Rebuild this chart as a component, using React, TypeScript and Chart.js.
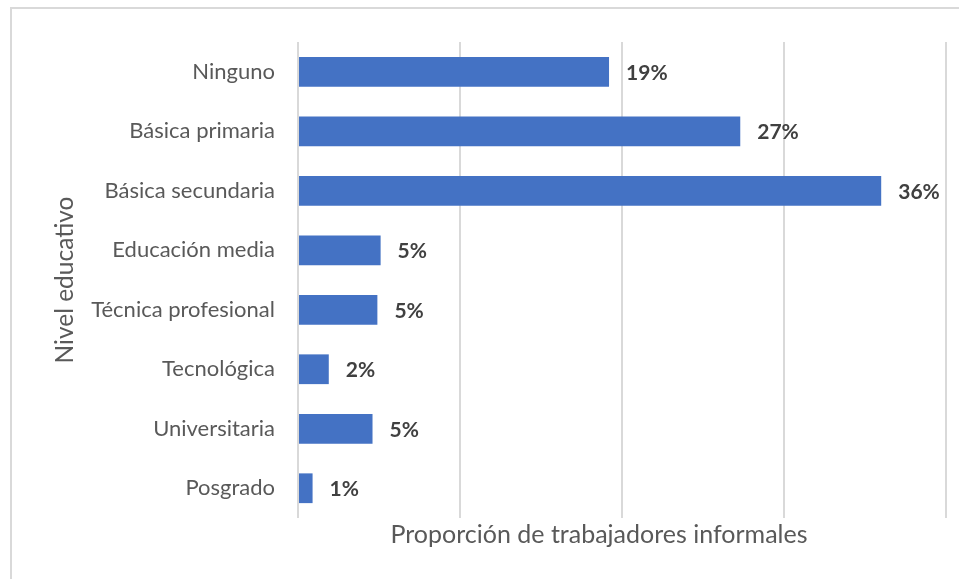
import React, { useEffect, useRef } from "react";
import { Chart, registerables } from "chart.js";

Chart.register(...registerables);

const categories = [
  "Ninguno",
  "Básica primaria",
  "Básica secundaria",
  "Educación media",
  "Técnica profesional",
  "Tecnológica",
  "Universitaria",
  "Posgrado",
];
const values = [19.2, 27.3, 36.0, 5.1, 4.9, 1.9, 4.6, 0.9];
const valueLabels = ["19%", "27%", "36%", "5%", "5%", "2%", "5%", "1%"];
const xTitle = "Proporción de trabajadores informales";
const yTitle = "Nivel educativo";

const FONT = "Lato, 'Open Sans', sans-serif";

const labelPlugin = {
  id: "labelsAndTitle",
  afterDatasetsDraw(chart: any) {
    const ctx = chart.ctx;
    const meta = chart.getDatasetMeta(0);
    ctx.save();
    ctx.fillStyle = "#404040";
    ctx.font = `bold 21px ${FONT}`;
    ctx.textAlign = "left";
    ctx.textBaseline = "middle";
    meta.data.forEach((bar: any, i: number) => {
      ctx.fillText(valueLabels[i], bar.x + 17, bar.y + 1);
    });
    ctx.fillStyle = "#595959";
    ctx.font = `25px ${FONT}`;
    ctx.textAlign = "center";
    ctx.textBaseline = "middle";
    const ca = chart.chartArea;
    ctx.fillText(xTitle, ca.left + 301, ca.bottom + 17);
    ctx.restore();
  },
};

export default function App() {
  const ref = useRef<HTMLCanvasElement>(null);
  useEffect(() => {
    if (!ref.current) return;
    const chart = new Chart(ref.current, {
      type: "bar",
      data: {
        labels: categories,
        datasets: [
          {
            data: values,
            backgroundColor: "#4472C4",
            borderWidth: 0,
            barPercentage: 0.5,
            categoryPercentage: 1,
          },
        ],
      },
      options: {
        indexAxis: "y",
        animation: false,
        responsive: false,
        maintainAspectRatio: false,
        layout: { padding: { left: 0, top: 42, right: 13, bottom: 61 } },
        plugins: {
          legend: { display: false },
          tooltip: { enabled: false },
          title: { display: false },
        },
        scales: {
          x: {
            min: 0,
            max: 40,
            ticks: { display: false, stepSize: 10 },
            grid: { color: "#d9d9d9", lineWidth: 2, drawTicks: false },
            border: { display: false },
          },
          y: {
            ticks: {
              color: "#595959",
              font: { family: FONT, size: 22 },
              padding: 23,
            },
            grid: { display: false, drawTicks: false },
            border: { display: false },
            title: {
              display: true,
              text: yTitle,
              color: "#595959",
              font: { family: FONT, size: 24.5 },
              padding: { top: 50, bottom: 0 },
            },
            afterFit: (scale: any) => {
              scale.width = 298;
            },
          },
        },
      },
      plugins: [labelPlugin],
    });
    return () => chart.destroy();
  }, []);
  return (
    <div
      style={{
        position: "fixed",
        left: 0,
        top: 0,
        width: 959,
        height: 579,
        overflow: "hidden",
        background: "#fff",
      }}
    >
      <div
        style={{
          position: "absolute",
          left: 10,
          top: 7,
          width: 1000,
          height: 700,
          border: "2px solid #d9d9d9",
        }}
      />
      <canvas
        ref={ref}
        width={959}
        height={579}
        style={{ position: "absolute", left: 0, top: 0 }}
      />
    </div>
  );
}
